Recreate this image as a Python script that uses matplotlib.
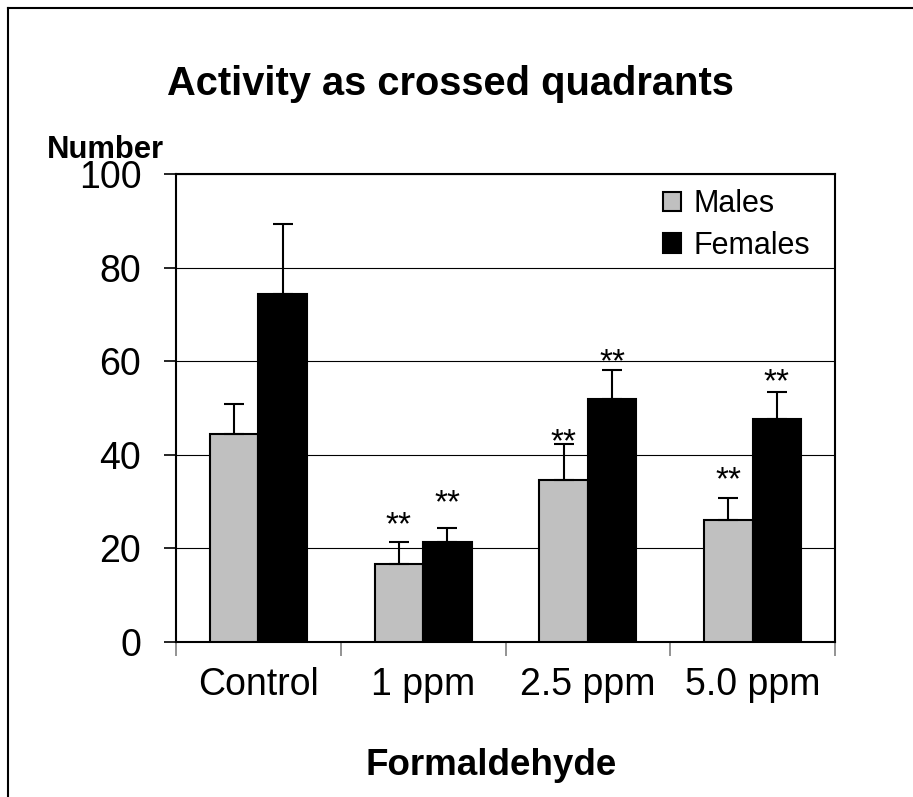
import numpy as np
import matplotlib.pyplot as plt
from matplotlib.lines import Line2D

plt.rcParams['font.family'] = ['Liberation Sans', 'DejaVu Sans']

# data
groups = ['Control', '1 ppm', '2.5 ppm', '5.0 ppm']
males = [44.4, 16.7, 34.6, 26.1]
males_err = [6.4, 4.7, 7.6, 4.6]
females = [74.4, 21.4, 51.9, 47.6]
females_err = [14.9, 2.9, 6.2, 5.9]
# height of the "**" significance marks (None = no mark)
stars_m = [None, 26.1, 43.8, 35.8]
stars_f = [None, 30.8, 61.0, 56.7]

fig = plt.figure(figsize=(9.13, 7.97), dpi=100)
ax = fig.add_axes([0.1928, 0.1945, 0.7218, 0.5872])

x = np.arange(len(groups))
w = 0.294

ax.bar(x - w/2, males, w, color='#c0c0c0', edgecolor='black', linewidth=1.5,
       label='Males', zorder=3)
ax.bar(x + w/2, females, w, color='black', edgecolor='black', linewidth=1.5,
       label='Females', zorder=3)
ax.errorbar(x - w/2, males, yerr=[np.zeros(4), males_err], fmt='none',
            ecolor='black', elinewidth=1.5, capsize=7, capthick=1.5, zorder=4)
ax.errorbar(x + w/2, females, yerr=[np.zeros(4), females_err], fmt='none',
            ecolor='black', elinewidth=1.5, capsize=7, capthick=1.5, zorder=4)

for i in range(len(groups)):
    for xpos, ypos in ((x[i] - w/2, stars_m[i]), (x[i] + w/2, stars_f[i])):
        if ypos is None:
            continue
        ax.annotate('**', (xpos, ypos), xytext=(0, -4.5), textcoords='offset points',
                    ha='center', va='center', fontsize=24, zorder=5)

ax.set_xlim(-0.5, len(groups) - 0.5)
ax.set_ylim(0, 100)
ax.set_yticks(np.arange(0, 101, 20))
ax.grid(axis='y', color='black', linewidth=0.8, zorder=0)
ax.set_axisbelow(True)

# group boundaries as major ticks, names as minor ticks
ax.set_xticks(np.arange(-0.5, len(groups), 1.0))
ax.set_xticklabels([])
ax.set_xticks(x, minor=True)
ax.set_xticklabels(groups, minor=True, fontsize=27)
ax.tick_params(axis='x', which='major', direction='out', length=10, color='gray', width=1.2)
ax.tick_params(axis='x', which='minor', length=0, pad=18)
ax.tick_params(axis='y', direction='out', length=9, width=1.2, labelsize=27, pad=16)

for s in ax.spines.values():
    s.set_linewidth(1.5)
    s.set_color('black')

ax.legend(loc='upper right', fontsize=22, frameon=False, handlelength=0.6,
          handleheight=0.6, handletextpad=0.4, labelspacing=0.38,
          bbox_to_anchor=(0.985, 1.0), borderaxespad=0.1)

fig.text(450/913, 1 - 95/797, 'Activity as crossed quadrants', ha='center',
         va='baseline', fontsize=28.7, fontweight='bold')
fig.text(105/913, 1 - 158/797, 'Number', ha='center', va='baseline',
         fontsize=22.3, fontweight='bold')
fig.text(491/913, 1 - 775/797, 'Formaldehyde', ha='center', va='baseline',
         fontsize=26.5, fontweight='bold')

# outer chart frame (cut off at right and bottom)
fig.add_artist(Line2D([8/913, 8/913], [0, 1 - 8/797], color='black', linewidth=1.5,
                      transform=fig.transFigure))
fig.add_artist(Line2D([8/913, 1], [1 - 8/797, 1 - 8/797], color='black', linewidth=1.5,
                      transform=fig.transFigure))

plt.savefig('out.png', dpi=100)
